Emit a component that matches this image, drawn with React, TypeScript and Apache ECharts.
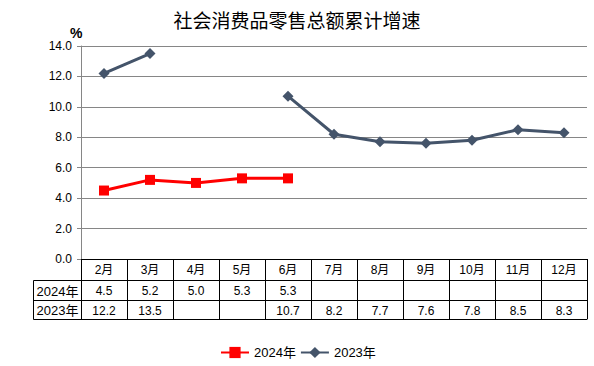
import React, { useEffect, useRef } from "react";
import * as echarts from "echarts";

const months = ["2月", "3月", "4月", "5月", "6月", "7月", "8月", "9月", "10月", "11月", "12月"];
const series2024: (number | null)[] = [4.5, 5.2, 5.0, 5.3, 5.3, null, null, null, null, null, null];
const series2023: (number | null)[] = [12.2, 13.5, null, null, 10.7, 8.2, 7.7, 7.6, 7.8, 8.5, 8.3];
const seriesNames = ["2024年", "2023年"];
const yTicks = { min: 0, max: 14, interval: 2 };
const titleText = "社会消费品零售总额累计增速";
const unitText = "%";

const FONT = "'Liberation Sans', 'Noto Sans CJK SC', sans-serif";
const GRID_LEFT = 81;
const GRID_RIGHT = 7;
const GRID_TOP = 46;
const GRID_BOTTOM = 107;
const ROW1 = 21;
const ROW2 = 41;
const ROW3 = 60;

const fmt = (v: number | null) => (v == null ? "" : v.toFixed(1));

export default function App() {
  const ref = useRef<HTMLDivElement>(null);
  useEffect(() => {
    if (!ref.current) return;
    const chart = echarts.init(ref.current, undefined, { renderer: "svg" });
    const axisY = 366 - GRID_BOTTOM;
    const tableAxis = (offset: number, values: (number | null)[] | null) => ({
      type: "category",
      data: months,
      position: "bottom",
      offset,
      boundaryGap: true,
      axisLine: { show: true, lineStyle: { color: "#000", width: 1 } },
      axisTick: { show: false },
      splitLine: { show: false },
      axisLabel: {
        show: values != null,
        interval: 0,
        margin: 5,
        fontSize: 12,
        fontFamily: FONT,
        color: "#000",
        formatter: (_v: string, i: number) => (values ? fmt(values[i]) : ""),
      },
    });
    chart.setOption({
      animation: false,
      title: {
        text: titleText,
        left: "center",
        top: 5,
        textStyle: { fontSize: 19, fontWeight: "normal", color: "#000", fontFamily: "'Noto Sans CJK SC', sans-serif" },
      },
      legend: {
        data: seriesNames,
        left: 215,
        top: 341,
        itemWidth: 28,
        itemHeight: 14,
        itemGap: 4,
        textStyle: { fontSize: 13, fontFamily: FONT, color: "#000" },
      },
      grid: { left: GRID_LEFT, right: GRID_RIGHT, top: GRID_TOP, bottom: GRID_BOTTOM, containLabel: false },
      xAxis: [
        {
          type: "category",
          data: months,
          position: "bottom",
          boundaryGap: true,
          axisLine: { show: true, lineStyle: { color: "#000", width: 1 } },
          axisTick: { show: true, length: ROW3, lineStyle: { color: "#000", width: 1 } },
          splitLine: { show: false },
          axisLabel: { interval: 0, margin: 5, fontSize: 12, fontFamily: FONT, color: "#000" },
        },
        tableAxis(ROW1, series2024),
        tableAxis(ROW2, series2023),
        tableAxis(ROW3, null),
      ],
      yAxis: {
        type: "value",
        min: yTicks.min,
        max: yTicks.max,
        interval: yTicks.interval,
        name: unitText,
        nameLocation: "end",
        nameGap: -1,
        nameTextStyle: { fontSize: 14, fontWeight: "bold", fontFamily: FONT, color: "#000", align: "left", padding: [0, 0, 0, -11] },
        axisLine: { show: true, lineStyle: { color: "#868686", width: 1 } },
        axisTick: { show: true, length: 4, lineStyle: { color: "#868686" } },
        splitLine: { show: true, lineStyle: { color: "#868686", width: 1 } },
        axisLabel: {
          margin: 9,
          fontSize: 12,
          fontFamily: FONT,
          color: "#000",
          formatter: (v: number) => v.toFixed(1),
        },
      },
      graphic: [
        {
          type: "rect",
          shape: { x: 33.5, y: axisY + ROW1 + 0.5, width: GRID_LEFT - 33, height: ROW3 - ROW1 },
          style: { fill: "none", stroke: "#000", lineWidth: 1 },
          silent: true,
        },
        {
          type: "line",
          shape: { x1: 33.5, y1: axisY + ROW2 + 0.5, x2: GRID_LEFT + 0.5, y2: axisY + ROW2 + 0.5 },
          style: { stroke: "#000", lineWidth: 1 },
          silent: true,
        },
        {
          type: "text",
          x: 57.5,
          y: axisY + (ROW1 + ROW2) / 2 + 1,
          style: { text: seriesNames[0], fontSize: 13, fontFamily: FONT, fill: "#000", align: "center", verticalAlign: "middle" },
          silent: true,
        },
        {
          type: "text",
          x: 57.5,
          y: axisY + (ROW2 + ROW3) / 2 + 1,
          style: { text: seriesNames[1], fontSize: 13, fontFamily: FONT, fill: "#000", align: "center", verticalAlign: "middle" },
          silent: true,
        },
      ],
      series: [
        {
          name: seriesNames[0],
          type: "line",
          data: series2024,
          xAxisIndex: 0,
          symbol: "rect",
          symbolSize: 10,
          connectNulls: false,
          itemStyle: { color: "#FF0000" },
          lineStyle: { color: "#FF0000", width: 3 },
          z: 3,
        },
        {
          name: seriesNames[1],
          type: "line",
          data: series2023,
          xAxisIndex: 0,
          symbol: "diamond",
          symbolSize: 11,
          connectNulls: false,
          itemStyle: { color: "#44546A" },
          lineStyle: { color: "#44546A", width: 3 },
          z: 2,
        },
      ],
    });
    return () => chart.dispose();
  }, []);
  return <div ref={ref} style={{ width: 594, height: 366, position: "absolute", left: 0, top: 0 }} />;
}
